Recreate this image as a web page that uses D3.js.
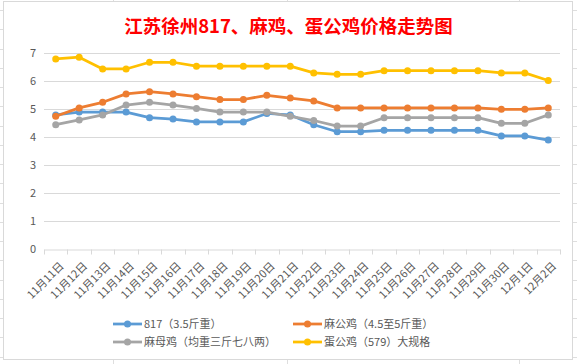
<!DOCTYPE html>
<html>
<head>
<meta charset="utf-8">
<script src="https://cdn.jsdelivr.net/npm/d3@7/dist/d3.min.js"></script>
<style>
body { margin: 0; background: #fff; }
svg { display: block; }
</style>
</head>
<body>
<div id="chart"></div>
<script>
var dates = ["11月11日","11月12日","11月13日","11月14日","11月15日","11月16日","11月17日","11月18日","11月19日","11月20日","11月21日",
	"11月22日","11月23日","11月24日","11月25日","11月26日","11月27日","11月28日","11月29日","11月30日","12月1日","12月2日"];
var s817 = [4.8,4.9,4.9,4.9,4.7,4.65,4.55,4.55,4.55,4.85,4.8,4.45,4.2,4.2,4.25,4.25,4.25,4.25,4.25,4.05,4.05,3.9];
var maGongJi = [4.75,5.05,5.25,5.55,5.63,5.55,5.45,5.35,5.35,5.5,5.4,5.3,5.05,5.05,5.05,5.05,5.05,5.05,5.05,5.0,5.0,5.05];
var maMuJi = [4.45,4.62,4.8,5.15,5.25,5.15,5.03,4.9,4.9,4.9,4.75,4.6,4.4,4.4,4.7,4.7,4.7,4.7,4.7,4.5,4.5,4.8];
var danGongJi = [6.8,6.86,6.44,6.44,6.68,6.68,6.54,6.54,6.54,6.54,6.54,6.3,6.25,6.25,6.38,6.38,6.38,6.38,6.38,6.3,6.3,6.03];
var seriesNames = ["817（3.5斤重）","麻公鸡（4.5至5斤重）","麻母鸡（均重三斤七八两）","蛋公鸡（579）大规格"];
var seriesColors = ["#5B9BD5","#ED7D31","#A5A5A5","#FFC000"];
var yTicks = [0,1,2,3,4,5,6,7];

var W = 577, H = 364;
var font = "'Noto Sans CJK SC', 'Noto Sans', sans-serif";
var svg = d3.select("#chart").append("svg").attr("width", W).attr("height", H);

// 表格背景线
var bg = svg.append("g");
d3.range(0, 20).forEach(function(k) {
	var yy = Math.round(10 + 19.25 * k) + 0.5;
	bg.append("line").attr("x1", 0).attr("x2", W).attr("y1", yy).attr("y2", yy).style("stroke", "#dedede");
});
[113, 287, 519].forEach(function(xx) {
	bg.append("line").attr("x1", xx + 0.5).attr("x2", xx + 0.5).attr("y1", 0).attr("y2", H).style("stroke", "#dedede");
});

// 图表区
svg.append("rect").attr("x", 3.5).attr("y", 1.5).attr("width", 569).attr("height", 358)
	.style("fill", "#fff").style("stroke", "#d9d9d9");

svg.append("text").attr("x", W / 2).attr("y", 33).attr("text-anchor", "middle")
	.style("font-family", font).style("font-size", "18.5px").style("font-weight", "bold")
	.style("fill", "#ff0000").text("江苏徐州817、麻鸡、蛋公鸡价格走势图");

var plotL = 44, plotR = 560, plotT = 53.3, plotB = 249.3;
var x = d3.scaleBand().domain(dates).range([plotL, plotR]);
var y = d3.scaleLinear().domain([0, 7]).range([plotB, plotT]);

// 网格
svg.append("g").selectAll("line").data(yTicks.slice(1)).enter().append("line")
	.attr("x1", plotL).attr("x2", plotR)
	.attr("y1", function(d) { return Math.round(y(d)) + 0.5; })
	.attr("y2", function(d) { return Math.round(y(d)) + 0.5; })
	.style("stroke", "#d9d9d9");

var yAxis = svg.append("g").attr("transform", "translate(" + (plotL - 8) + ",0)")
	.call(d3.axisLeft(y).tickValues(yTicks).tickSize(0).tickFormat(d3.format("d")));
yAxis.select(".domain").remove();
yAxis.selectAll("text").attr("x", 0).style("font-family", font).style("font-size", "11px").style("fill", "#595959");

var xAxis = svg.append("g").attr("transform", "translate(0," + (Math.round(plotB) + 0.5) + ")")
	.call(d3.axisBottom(x).tickSize(0).tickFormat(""));
xAxis.select(".domain").style("stroke", "#d9d9d9");
xAxis.selectAll(".tick").remove();
// 类别之间的刻度
xAxis.selectAll(".sep").data(d3.range(dates.length + 1)).enter().append("line")
	.attr("x1", function(i) { return Math.round(plotL + i * x.step()) + 0.5; })
	.attr("x2", function(i) { return Math.round(plotL + i * x.step()) + 0.5; })
	.attr("y1", 0).attr("y2", 5).style("stroke", "#d9d9d9");

svg.append("g").selectAll("text").data(dates).enter().append("text")
	.attr("text-anchor", "end")
	.attr("transform", function(d) { return "translate(" + (x(d) + x.bandwidth() / 2 + 6) + ",264) rotate(-45)"; })
	.attr("dy", "0.35em")
	.style("font-family", font).style("font-size", "11px").style("fill", "#595959")
	.text(function(d) { return d; });

var allSeries = [s817, maGongJi, maMuJi, danGongJi];
var line = d3.line()
	.x(function(d, i) { return x(dates[i]) + x.bandwidth() / 2; })
	.y(function(d) { return y(d); });

allSeries.forEach(function(vals, k) {
	var g = svg.append("g");
	g.append("path").datum(vals).attr("d", line)
		.style("fill", "none").style("stroke", seriesColors[k]).style("stroke-width", 2.75)
		.style("stroke-linejoin", "round");
	g.selectAll("circle").data(vals).enter().append("circle")
		.attr("cx", function(d, i) { return x(dates[i]) + x.bandwidth() / 2; })
		.attr("cy", function(d) { return y(d); })
		.attr("r", 3.5).style("fill", seriesColors[k]);
});

// 图例
var legX = [113, 293], legY = [324, 342];
seriesNames.forEach(function(name, k) {
	var lx = legX[k % 2], ly = legY[Math.floor(k / 2)];
	var g = svg.append("g").attr("transform", "translate(" + lx + "," + ly + ")");
	g.append("line").attr("x1", 0).attr("x2", 29).attr("y1", 0).attr("y2", 0)
		.style("stroke", seriesColors[k]).style("stroke-width", 2.75);
	g.append("circle").attr("cx", 14.5).attr("cy", 0).attr("r", 3.5).style("fill", seriesColors[k]);
	g.append("text").attr("x", 31).attr("dy", "0.35em")
		.style("font-family", font).style("font-size", "11px").style("fill", "#595959").text(name);
});
</script>
</body>
</html>
